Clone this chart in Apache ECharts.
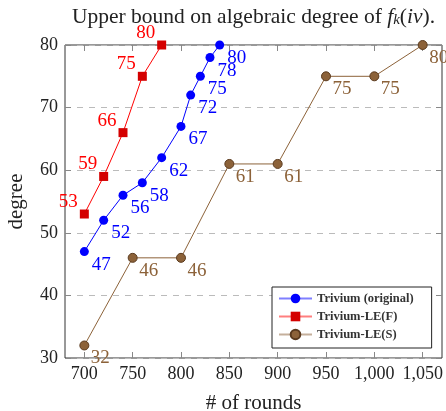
<!DOCTYPE html>
<html>
<head>
<meta charset="utf-8">
<script src="https://cdn.jsdelivr.net/npm/echarts@6/dist/echarts.min.js"></script>
<style>html,body{margin:0;padding:0;background:#fff}#c{width:446px;height:411px}</style>
</head>
<body>
<div id="c"></div>
<script>
const xTicks = [700, 750, 800, 850, 900, 950, 1000, 1050];
const yTicks = [30, 40, 50, 60, 70, 80];

const origRounds = [700, 720, 740, 760, 780, 800, 810, 820, 830, 840];
const origDegree = [47, 52, 56, 58, 62, 67, 72, 75, 78, 80];

const leFRounds = [700, 720, 740, 760, 780];
const leFDegree = [53, 59, 66, 75, 80];

const leSRounds = [700, 750, 800, 850, 900, 950, 1000, 1050];
const leSDegree = [32, 46, 46, 61, 61, 75, 75, 80];

const seriesNames = ['Trivium (original)', 'Trivium-LE(F)', 'Trivium-LE(S)'];

const FONT = '"Liberation Serif", "DejaVu Serif", serif';
const zip = (a, b) => a.map((v, i) => [v, b[i]]);

const chart = echarts.init(document.getElementById('c'));
const fmt = v => v >= 1000 ? String(Math.floor(v / 1000)) + ',' + String(v % 1000).padStart(3, '0') : String(v);

chart.setOption({
  animation: false,
  title: {
    left: 67, top: 1,
    text: 'Upper bound on algebraic degree of {i|f}{sub|k}({i|iv}).',
    textStyle: {
      fontFamily: FONT, fontSize: 21.5, fontWeight: 'normal', color: '#222',
      rich: {
        i: { fontFamily: FONT, fontSize: 21.5, fontStyle: 'italic', color: '#222' },
        sub: { fontFamily: FONT, fontSize: 15, fontStyle: 'italic', color: '#222', verticalAlign: 'bottom', padding: [7, 0, 0, 0] }
      }
    }
  },
  grid: { left: 65, right: 4, top: 45, bottom: 53, containLabel: false, outerBoundsMode: 'none', show: true, borderColor: '#333', borderWidth: 1, backgroundColor: 'transparent' },
  legend: {
    orient: 'vertical', left: 272, top: 287,
    data: seriesNames,
    backgroundColor: '#fff', borderColor: '#222', borderWidth: 1,
    padding: [5, 18, 7, 6], itemGap: 5, itemWidth: 33, itemHeight: 12,
    textStyle: { fontFamily: FONT, fontSize: 12.5, fontWeight: 'bold', color: '#333' },
    lineStyle: { opacity: 0.5 }
  },
  xAxis: [{
    type: 'value', min: 680, max: 1070,
    name: '# of rounds', nameLocation: 'middle', nameGap: 35,
    nameTextStyle: { fontFamily: FONT, fontSize: 21, color: '#222' },
    axisLine: { show: false },
    axisTick: { show: true, inside: true, length: 6, customValues: xTicks, lineStyle: { color: '#888' } },
    axisLabel: { customValues: xTicks, formatter: fmt, margin: 7, fontFamily: FONT, fontSize: 18, color: '#222' },
    splitLine: { show: false }
  }, {
    type: 'value', min: 680, max: 1070, position: 'top',
    axisLine: { show: false },
    axisTick: { show: true, inside: true, length: 6, customValues: xTicks, lineStyle: { color: '#888' } },
    axisLabel: { show: false },
    splitLine: { show: false }
  }],
  yAxis: [{
    type: 'value', min: 30, max: 80, interval: 10,
    name: 'degree', nameLocation: 'middle', nameGap: 38,
    nameTextStyle: { fontFamily: FONT, fontSize: 21, color: '#222' },
    axisLine: { show: false },
    axisTick: { show: true, inside: true, length: 6, lineStyle: { color: '#888' } },
    axisLabel: { margin: 7, fontFamily: FONT, fontSize: 18, color: '#222' },
    splitLine: { show: true, lineStyle: { color: '#bbb', type: [6, 6], width: 1 } }
  }, {
    type: 'value', min: 30, max: 80, interval: 10, position: 'right',
    axisLine: { show: false },
    axisTick: { show: true, inside: true, length: 6, lineStyle: { color: '#888' } },
    axisLabel: { show: false },
    splitLine: { show: false }
  }],
  series: [{
    name: seriesNames[0], type: 'line', data: zip(origRounds, origDegree),
    symbol: 'circle', symbolSize: 9,
    lineStyle: { color: '#0000ff', width: 1 },
    itemStyle: { color: '#0000ff' },
    label: { show: true, position: 'inside', offset: [17, 13], formatter: p => p.value[1], fontFamily: FONT, fontSize: 19, color: '#0000ff' },
    z: 3
  }, {
    name: seriesNames[1], type: 'line', data: zip(leFRounds, leFDegree),
    symbol: 'rect', symbolSize: 9,
    lineStyle: { color: '#ff0000', width: 1 },
    itemStyle: { color: '#d40000' },
    label: { show: true, position: 'inside', offset: [-16, -12], formatter: p => p.value[1], fontFamily: FONT, fontSize: 19, color: '#ff0000' },
    z: 3
  }, {
    name: seriesNames[2], type: 'line', data: zip(leSRounds, leSDegree),
    symbol: 'circle', symbolSize: 9,
    lineStyle: { color: '#8c6239', width: 1 },
    itemStyle: { color: '#8c6239', borderColor: '#5a3a1e', borderWidth: 1 },
    label: { show: true, position: 'inside', offset: [16, 13], formatter: p => p.value[1], fontFamily: FONT, fontSize: 19, color: '#8c6239' },
    z: 3
  }]
});
</script>
</body>
</html>
